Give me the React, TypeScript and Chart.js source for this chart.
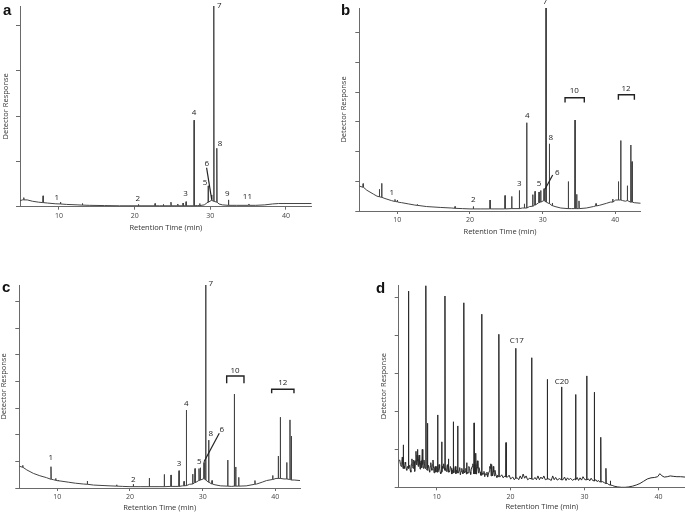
import React, { useEffect, useRef } from 'react';
import { Chart, registerables } from 'chart.js';

Chart.register(...registerables);

type Pt = [number, number];
type Peak = [number, number, number]; // time, apex, foot
type Label = [string, number, number];
type Leader = [number, number, number, number];
type Bracket = [number, number, number, number]; // t1, t2, top, leg

const FONT = "'Open Sans', sans-serif";
const xTickValues = [10, 20, 30, 40];
const xTitle = 'Retention Time (min)';
const yTitle = 'Detector Response';

// ---------------- Panel a ----------------
const baselineA: Pt[] = [
  [4.85, 0.13], [5.15, 0.15], [5.8, 0.15], [6.5, 0.12], [7.3, 0.1], [8.5, 0.08], [9.5, 0.065],
  [11, 0.05], [12.5, 0.04], [14, 0.03], [16, 0.025], [18, 0.02], [21.5, 0.02], [23.3, 0.02],
  [27.2, 0.02], [28.3, 0.025], [29.2, 0.04], [29.45, 0.07], [31.15, 0.06], [31.6, 0.04],
  [33.5, 0.03], [36, 0.03], [37.2, 0.04], [38.2, 0.06], [39, 0.07], [43.4, 0.07],
];
const peaksA: Peak[] = [
  [5.35, 0.2, 0.15], [7.9, 0.24, 0.09], [10.2, 0.1, 0.06], [13.1, 0.07, 0.035], [20.5, 0.05, 0.02],
  [22.7, 0.07, 0.02], [23.8, 0.05, 0.02], [24.8, 0.1, 0.02], [25.7, 0.06, 0.02], [26.4, 0.08, 0.02],
  [26.8, 0.11, 0.02], [27.86, 1.91, 0.02], [28.6, 0.07, 0.025], [29.73, 0.46, 0.1],
  [30.18, 0.26, 0.14], [30.46, 4.43, 0.12], [30.86, 1.29, 0.1], [32.4, 0.15, 0.03], [35.1, 0.06, 0.03],
];
const labelsA: Label[] = [
  ['1', 9.7, 0.19], ['2', 20.4, 0.17], ['3', 26.74, 0.28], ['4', 27.84, 2.07], ['5', 29.3, 0.52],
  ['6', 29.52, 0.94], ['7', 31.18, 4.43], ['8', 31.28, 1.4], ['9', 32.24, 0.28], ['11', 34.9, 0.22],
];
const leadersA: Leader[] = [[29.51, 0.86, 30.18, 0.16]];
const bracketsA: Bracket[] = [];
const yTicksA = [0, 1, 2, 3, 4];

// ---------------- Panel b ----------------
const baselineB: Pt[] = [
  [4.77, 0.84], [5.0, 0.82], [5.8, 0.7], [6.7, 0.57], [7.2, 0.5], [8.3, 0.42], [9.2, 0.35],
  [10.6, 0.28], [11.5, 0.24], [12.4, 0.2], [14, 0.15], [15.9, 0.12], [17.5, 0.1], [19, 0.08],
  [20, 0.07], [21.5, 0.07], [24, 0.07], [26.2, 0.08], [27.2, 0.1], [28.2, 0.15], [31.7, 0.15],
  [32.5, 0.1], [34, 0.08], [36, 0.1], [37, 0.15], [37.8, 0.19], [38.8, 0.26], [39.3, 0.3],
  [40.05, 0.37], [41, 0.35], [41.4, 0.33], [42.6, 0.28], [43.49, 0.26],
];
const peaksB: Peak[] = [
  [5.3, 0.92, 0.8], [7.53, 0.73, 0.48], [7.85, 0.93, 0.46], [9.68, 0.39, 0.32], [10.0, 0.37, 0.31],
  [10.28, 0.3, 0.29], [12.75, 0.22, 0.19], [17.94, 0.15, 0.09], [20.46, 0.15, 0.07],
  [22.76, 0.37, 0.07], [24.82, 0.52, 0.07], [25.74, 0.49, 0.08], [26.79, 0.69, 0.08],
  [27.48, 0.24, 0.1], [27.8, 2.97, 0.1], [28.63, 0.55, 0.16], [28.95, 0.66, 0.2], [29.5, 0.64, 0.28],
  [29.73, 0.69, 0.3], [30.19, 0.75, 0.35], [30.46, 6.83, 0.3], [30.92, 2.26, 0.25], [31.33, 0.27, 0.18],
  [33.53, 0.99, 0.08], [34.45, 3.06, 0.08], [34.68, 0.56, 0.08], [35.0, 0.34, 0.08], [37.34, 0.25, 0.17],
  [39.64, 0.4, 0.3], [40.42, 0.99, 0.37], [40.74, 2.37, 0.37], [41.65, 0.85, 0.35], [42.12, 2.22, 0.3],
  [42.3, 1.66, 0.3],
];
const labelsB: Label[] = [
  ['1', 9.23, 0.6], ['2', 20.46, 0.37], ['3', 26.79, 0.93], ['4', 27.89, 3.21], ['5', 29.5, 0.91],
  ['6', 32.02, 1.29], ['7', 30.32, 7.05], ['8', 31.11, 2.45], ['10', 34.36, 4.04], ['12', 41.47, 4.1],
];
const leadersB: Leader[] = [[31.38, 1.21, 30.32, 0.73]];
const bracketsB: Bracket[] = [[33.08, 35.73, 3.81, 3.65], [40.42, 42.62, 3.91, 3.74]];
const yTicksB = [0, 1, 2, 3, 4, 5, 6];

// ---------------- Panel c ----------------
const baselineC: Pt[] = [
  [4.77, 0.82], [5.0, 0.8], [5.8, 0.68], [6.7, 0.55], [7.6, 0.46], [8.5, 0.39], [9.5, 0.31],
  [10.5, 0.26], [11.5, 0.22], [12.5, 0.18], [13.58, 0.15], [15, 0.11], [17.25, 0.08], [19, 0.06],
  [20, 0.05], [21.5, 0.05], [24, 0.05], [26.2, 0.06], [27.2, 0.08], [28.2, 0.14], [31.7, 0.12],
  [32.5, 0.08], [34, 0.06], [36, 0.08], [37.44, 0.15], [38.2, 0.22], [38.8, 0.28], [40.1, 0.36],
  [41.2, 0.34], [42.6, 0.3], [43.4, 0.28],
];
const peaksC: Peak[] = [
  [5.24, 0.85, 0.78], [9.13, 0.8, 0.33], [9.78, 0.36, 0.29], [10.14, 0.3, 0.27], [14.13, 0.26, 0.14],
  [18.17, 0.12, 0.07], [20.46, 0.14, 0.05], [22.66, 0.37, 0.05], [24.72, 0.51, 0.05],
  [25.65, 0.49, 0.06], [26.75, 0.65, 0.06], [27.44, 0.25, 0.08], [27.76, 2.93, 0.09],
  [28.63, 0.52, 0.15], [28.95, 0.73, 0.2], [29.5, 0.73, 0.28], [29.68, 0.76, 0.3], [30.19, 0.96, 0.35],
  [30.42, 7.63, 0.3], [30.83, 1.8, 0.22], [31.29, 0.28, 0.15], [33.45, 1.05, 0.07], [34.36, 3.53, 0.07],
  [34.55, 0.79, 0.07], [34.96, 0.4, 0.07], [37.2, 0.28, 0.14], [39.64, 0.47, 0.32], [40.41, 1.2, 0.36],
  [40.69, 2.66, 0.36], [41.57, 0.96, 0.34], [42.02, 2.56, 0.32], [42.2, 1.95, 0.3],
];
const labelsC: Label[] = [
  ['1', 9.09, 1.12], ['2', 20.46, 0.33], ['3', 26.75, 0.9], ['4', 27.75, 3.18], ['5', 29.54, 0.97],
  ['6', 32.62, 2.18], ['7', 31.11, 7.67], ['8', 31.11, 2.03], ['10', 34.45, 4.4], ['12', 41.02, 3.94],
];
const leadersC: Leader[] = [[32.29, 2.06, 30.19, 0.99]];
const bracketsC: Bracket[] = [[33.31, 35.69, 4.21, 3.94], [39.5, 42.57, 3.71, 3.56]];
const yTicksC = [0, 1, 2, 3, 4, 5, 6, 7];

// ---------------- Panel d ----------------
const baselineD: Pt[] = [
  [4.86, 0.7], [5.0, 0.72], [5.1, 0.6], [5.2, 0.55], [5.28, 0.68], [5.35, 0.8], [5.42, 0.6],
  [5.58, 0.55], [5.65, 0.5], [5.72, 0.66], [5.8, 0.62], [5.88, 0.48], [5.95, 0.45], [6.05, 0.55],
  [6.25, 0.5], [6.35, 0.58], [6.42, 0.45], [6.5, 0.4], [6.58, 0.62], [6.65, 0.75], [6.72, 0.55],
  [6.8, 0.5], [6.88, 0.72], [6.95, 0.68], [7.0, 0.5], [7.05, 0.42], [7.12, 0.7], [7.2, 0.95],
  [7.25, 0.62], [7.3, 0.6], [7.35, 0.85], [7.4, 1.0], [7.45, 0.7], [7.5, 0.55], [7.55, 0.75],
  [7.62, 0.85], [7.7, 0.6], [7.75, 0.48], [7.82, 0.66], [7.9, 0.7], [7.97, 0.52], [8.05, 1.0],
  [8.12, 0.6], [8.2, 0.5], [8.28, 0.72], [8.35, 0.62], [8.42, 0.5], [8.82, 0.5], [8.9, 0.58],
  [8.97, 0.45], [9.05, 0.4], [9.12, 0.55], [9.2, 0.65], [9.28, 0.5], [9.35, 0.45], [9.42, 0.6],
  [9.5, 0.72], [9.58, 0.5], [9.65, 0.38], [9.72, 0.52], [9.8, 0.55], [9.88, 0.4], [9.95, 0.42],
  [10.02, 0.55], [10.25, 0.45], [10.32, 0.6], [10.4, 0.5], [10.48, 0.4], [10.55, 0.36], [10.78, 0.55],
  [10.85, 0.5], [10.95, 0.62], [11.22, 0.5], [11.3, 0.42], [11.38, 0.55], [11.45, 0.6], [11.65, 0.45],
  [11.75, 0.4], [11.85, 0.55], [11.95, 0.5], [12.05, 0.35], [12.13, 0.45], [12.35, 0.4], [12.45, 0.48],
  [12.52, 0.55], [12.6, 0.36], [12.7, 0.45], [12.95, 0.38], [13.05, 0.45], [13.12, 0.52], [13.2, 0.33],
  [13.3, 0.42], [13.4, 0.5], [13.48, 0.4], [13.55, 0.36], [13.62, 0.45], [13.78, 0.38], [13.85, 0.42],
  [13.95, 0.5], [14.15, 0.4], [14.25, 0.38], [14.35, 0.55], [14.45, 0.5], [14.52, 0.4], [14.6, 0.34],
  [14.68, 0.48], [14.8, 0.55], [14.9, 0.62], [15.15, 0.45], [15.2, 0.6], [15.4, 0.55], [15.5, 0.7],
  [15.58, 0.5], [15.65, 0.38], [15.72, 0.52], [15.8, 0.45], [15.88, 0.4], [15.95, 0.32], [16.2, 0.38],
  [16.3, 0.35], [16.4, 0.42], [16.5, 0.28], [16.6, 0.36], [16.7, 0.33], [16.8, 0.4], [16.9, 0.27],
  [17.0, 0.35], [17.1, 0.42], [17.18, 0.55], [17.25, 0.5], [17.32, 0.62], [17.48, 0.45], [17.55, 0.3],
  [17.65, 0.55], [17.72, 0.4], [17.8, 0.3], [17.88, 0.45], [17.95, 0.38], [18.05, 0.3], [18.15, 0.26],
  [18.25, 0.32], [18.35, 0.28], [18.6, 0.28], [18.8, 0.33], [19.0, 0.25], [19.2, 0.3], [19.6, 0.27],
  [19.8, 0.32], [20.0, 0.22], [20.3, 0.27], [20.5, 0.2], [20.9, 0.25], [21.1, 0.2], [21.3, 0.3],
  [21.5, 0.22], [21.7, 0.35], [21.9, 0.24], [22.1, 0.3], [22.3, 0.2], [22.6, 0.24], [23.1, 0.21],
  [23.3, 0.26], [23.5, 0.2], [23.7, 0.3], [23.9, 0.2], [24.1, 0.27], [24.3, 0.22], [24.5, 0.3],
  [24.7, 0.2], [25.2, 0.22], [25.5, 0.18], [25.7, 0.3], [25.9, 0.2], [26.1, 0.26], [26.3, 0.19],
  [26.6, 0.23], [27.1, 0.2], [27.3, 0.27], [27.5, 0.18], [27.7, 0.25], [27.9, 0.2], [28.1, 0.24],
  [28.4, 0.18], [28.6, 0.22], [29.0, 0.26], [29.2, 0.18], [29.4, 0.25], [29.6, 0.19], [29.8, 0.28],
  [30.05, 0.2], [30.55, 0.22], [30.7, 0.17], [30.9, 0.24], [31.1, 0.18], [31.55, 0.2], [31.7, 0.15],
  [31.9, 0.18], [32.05, 0.14], [32.45, 0.15], [32.7, 0.12], [33.1, 0.1], [33.3, 0.07], [33.75, 0.05],
  [34, 0.03], [34.5, 0.01], [35, 0.0], [35.5, 0.0], [36, 0.01], [36.5, 0.03], [37, 0.06], [37.5, 0.1],
  [38, 0.16], [38.5, 0.22], [39, 0.25], [39.5, 0.26], [39.9, 0.28], [40.2, 0.36], [40.5, 0.3],
  [40.8, 0.27], [41.2, 0.28], [41.6, 0.3], [42, 0.29], [42.5, 0.28], [43, 0.28], [43.6, 0.27],
];
const peaksD: Peak[] = [
  [5.48, 1.12, 0.5], [6.16, 5.18, 0.5], [8.55, 5.32, 0.5], [8.73, 1.69, 0.45], [10.13, 1.91, 0.4],
  [10.68, 1.2, 0.4], [11.12, 5.05, 0.45], [11.57, 0.75, 0.4], [12.25, 1.73, 0.38], [12.84, 1.62, 0.38],
  [13.69, 4.87, 0.4], [14.06, 0.65, 0.35], [15.05, 1.7, 0.35], [15.3, 0.9, 0.35], [16.09, 4.57, 0.32],
  [17.4, 0.6, 0.3], [18.43, 4.04, 0.28], [19.38, 1.18, 0.27], [20.69, 3.67, 0.24], [22.85, 3.42, 0.22],
  [24.97, 2.85, 0.22], [26.9, 2.65, 0.2], [28.8, 2.45, 0.2], [30.3, 2.94, 0.2], [31.33, 2.51, 0.17],
  [32.2, 1.32, 0.14], [32.9, 0.5, 0.1], [33.5, 0.17, 0.06],
];
const labelsD: Label[] = [['C17', 20.83, 3.87], ['C20', 26.92, 2.8]];
const leadersD: Leader[] = [];
const bracketsD: Bracket[] = [];
const yTicksD = [0, 1, 2, 3, 4, 5];

const PEAK_HALF_WIDTH = 0.035;

function buildTrace(base: Pt[], peaks: Peak[]) {
  const dw = PEAK_HALF_WIDTH;
  const pts: { x: number; y: number }[] = [];
  base
    .filter(([t]) => !peaks.some((p) => Math.abs(p[0] - t) < dw * 1.5))
    .forEach(([t, v]) => pts.push({ x: t, y: v }));
  peaks.forEach(([t, top, foot]) => {
    pts.push({ x: t - dw, y: foot }, { x: t, y: top }, { x: t + dw, y: foot });
  });
  pts.sort((a, b) => a.x - b.x);
  return pts;
}

interface PanelCfg {
  letter: string;
  left: number; top: number; width: number; height: number;
  padTop: number; padRight: number; yAxisW: number; xAxisH: number;
  xMin: number; xMax: number; yMax: number; yTicks: number[];
  xTitlePad: number; yTitlePad: number;
  base: Pt[]; peaks: Peak[]; labels: Label[]; leaders: Leader[]; brackets: Bracket[];
  lineColor: string;
}

const panels: PanelCfg[] = [
  {
    letter: 'a', left: 0, top: 0, width: 342, height: 240, padTop: 6, padRight: 30.3, yAxisW: 20, xAxisH: 33.3,
    xMin: 4.85, xMax: 43.4, yMax: 4.43, yTicks: yTicksA, xTitlePad: 8, yTitlePad: 2.25,
    base: baselineA, peaks: peaksA, labels: labelsA, leaders: leadersA, brackets: bracketsA, lineColor: '#444',
  },
  {
    letter: 'b', left: 340, top: 0, width: 345, height: 240, padTop: 8, padRight: 44.3, yAxisW: 19.3, xAxisH: 29,
    xMin: 4.77, xMax: 43.49, yMax: 6.83, yTicks: yTicksB, xTitlePad: 4.5, yTitlePad: 0.25,
    base: baselineB, peaks: peaksB, labels: labelsB, leaders: leadersB, brackets: bracketsB, lineColor: '#444',
  },
  {
    letter: 'c', left: 0, top: 250, width: 340, height: 262, padTop: 35, padRight: 40, yAxisW: 19.3, xAxisH: 24,
    xMin: 4.77, xMax: 43.4, yMax: 7.63, yTicks: yTicksC, xTitlePad: 0, yTitlePad: 0.25,
    base: baselineC, peaks: peaksC, labels: labelsC, leaders: leadersC, brackets: bracketsC, lineColor: '#444',
  },
  {
    letter: 'd', left: 340, top: 250, width: 345, height: 262, padTop: 35, padRight: 0, yAxisW: 58.7, xAxisH: 24.7,
    xMin: 4.86, xMax: 43.6, yMax: 5.34, yTicks: yTicksD, xTitlePad: 1, yTitlePad: 40.25,
    base: baselineD, peaks: peaksD, labels: labelsD, leaders: leadersD, brackets: bracketsD, lineColor: '#2a2a2a',
  },
];

const letterPos: Record<string, [number, number]> = {
  a: [3, 2.3], b: [341, 2.3], c: [2, 279], d: [376, 279.6],
};

function makeAnnot(cfg: PanelCfg) {
  return {
    id: 'annot-' + cfg.letter,
    afterDatasetsDraw(chart: any) {
      const { ctx } = chart;
      const x = chart.scales.x;
      const y = chart.scales.y;
      ctx.save();
      ctx.fillStyle = '#222';
      ctx.strokeStyle = '#222';
      ctx.font = `8px ${FONT}`;
      ctx.textAlign = 'center';
      ctx.textBaseline = 'middle';
      cfg.labels.forEach(([txt, t, v]) => ctx.fillText(txt, x.getPixelForValue(t), y.getPixelForValue(v)));
      ctx.lineWidth = 1.2;
      cfg.leaders.forEach(([t1, v1, t2, v2]) => {
        ctx.beginPath();
        ctx.moveTo(x.getPixelForValue(t1), y.getPixelForValue(v1));
        ctx.lineTo(x.getPixelForValue(t2), y.getPixelForValue(v2));
        ctx.stroke();
      });
      ctx.lineWidth = 1.4;
      cfg.brackets.forEach(([t1, t2, top, leg]) => {
        ctx.beginPath();
        ctx.moveTo(x.getPixelForValue(t1), y.getPixelForValue(leg));
        ctx.lineTo(x.getPixelForValue(t1), y.getPixelForValue(top));
        ctx.lineTo(x.getPixelForValue(t2), y.getPixelForValue(top));
        ctx.lineTo(x.getPixelForValue(t2), y.getPixelForValue(leg));
        ctx.stroke();
      });
      ctx.restore();
    },
  };
}

function Panel({ cfg }: { cfg: PanelCfg }) {
  const ref = useRef<HTMLCanvasElement>(null);
  useEffect(() => {
    const axisColor = '#6a6a6a';
    const chart = new Chart(ref.current as HTMLCanvasElement, {
      type: 'line',
      data: {
        datasets: [
          {
            data: buildTrace(cfg.base, cfg.peaks),
            borderColor: cfg.lineColor,
            borderWidth: 1,
            pointRadius: 0,
            tension: 0,
            fill: false,
          },
        ],
      },
      options: {
        animation: false,
        responsive: false,
        devicePixelRatio: 1,
        parsing: false,
        layout: { padding: { top: cfg.padTop, right: cfg.padRight, left: 0, bottom: 0 } },
        plugins: { legend: { display: false }, tooltip: { enabled: false } },
        scales: {
          x: {
            type: 'linear',
            position: 'bottom',
            min: cfg.xMin,
            max: cfg.xMax,
            afterBuildTicks: (s: any) => { s.ticks = xTickValues.map((v) => ({ value: v })); },
            afterFit: (s: any) => { s.height = cfg.xAxisH; },
            grid: { display: true, drawOnChartArea: false, drawTicks: true, tickLength: 3, color: axisColor },
            border: { display: true, color: axisColor, width: 1 },
            ticks: { font: { family: FONT, size: 7 }, color: '#444', padding: 2, maxRotation: 0, autoSkip: false },
            title: {
              display: true, text: xTitle, color: '#333',
              font: { family: FONT, size: 7.5, lineHeight: 1 },
              padding: { top: 0, bottom: cfg.xTitlePad },
            },
          },
          y: {
            type: 'linear',
            min: 0,
            max: cfg.yMax,
            afterBuildTicks: (s: any) => { s.ticks = cfg.yTicks.map((v) => ({ value: v })); },
            afterFit: (s: any) => { s.width = cfg.yAxisW; },
            grid: { display: true, drawOnChartArea: false, drawTicks: true, tickLength: 4, color: axisColor },
            border: { display: true, color: axisColor, width: 1 },
            ticks: { display: false },
            title: {
              display: true, text: yTitle, color: '#333',
              font: { family: FONT, size: 7.5, lineHeight: 1 },
              padding: { top: cfg.yTitlePad, bottom: 0 },
            },
          },
        },
      } as any,
      plugins: [makeAnnot(cfg)],
    });
    return () => chart.destroy();
  }, [cfg]);
  return (
    <canvas
      ref={ref}
      width={cfg.width}
      height={cfg.height}
      style={{ position: 'absolute', left: cfg.left, top: cfg.top, width: cfg.width, height: cfg.height }}
    />
  );
}

export default function App() {
  return (
    <div style={{ position: 'absolute', left: 0, top: 0, width: 685, height: 512, background: '#fff', overflow: 'hidden' }}>
      {panels.map((p) => (
        <Panel key={p.letter} cfg={p} />
      ))}
      {panels.map((p) => (
        <div
          key={'L' + p.letter}
          style={{
            position: 'absolute', left: letterPos[p.letter][0], top: letterPos[p.letter][1],
            fontFamily: "'Liberation Sans', Arial, sans-serif", fontWeight: 'bold', fontSize: 15, lineHeight: 1, color: '#111',
          }}
        >
          {p.letter}
        </div>
      ))}
    </div>
  );
}
